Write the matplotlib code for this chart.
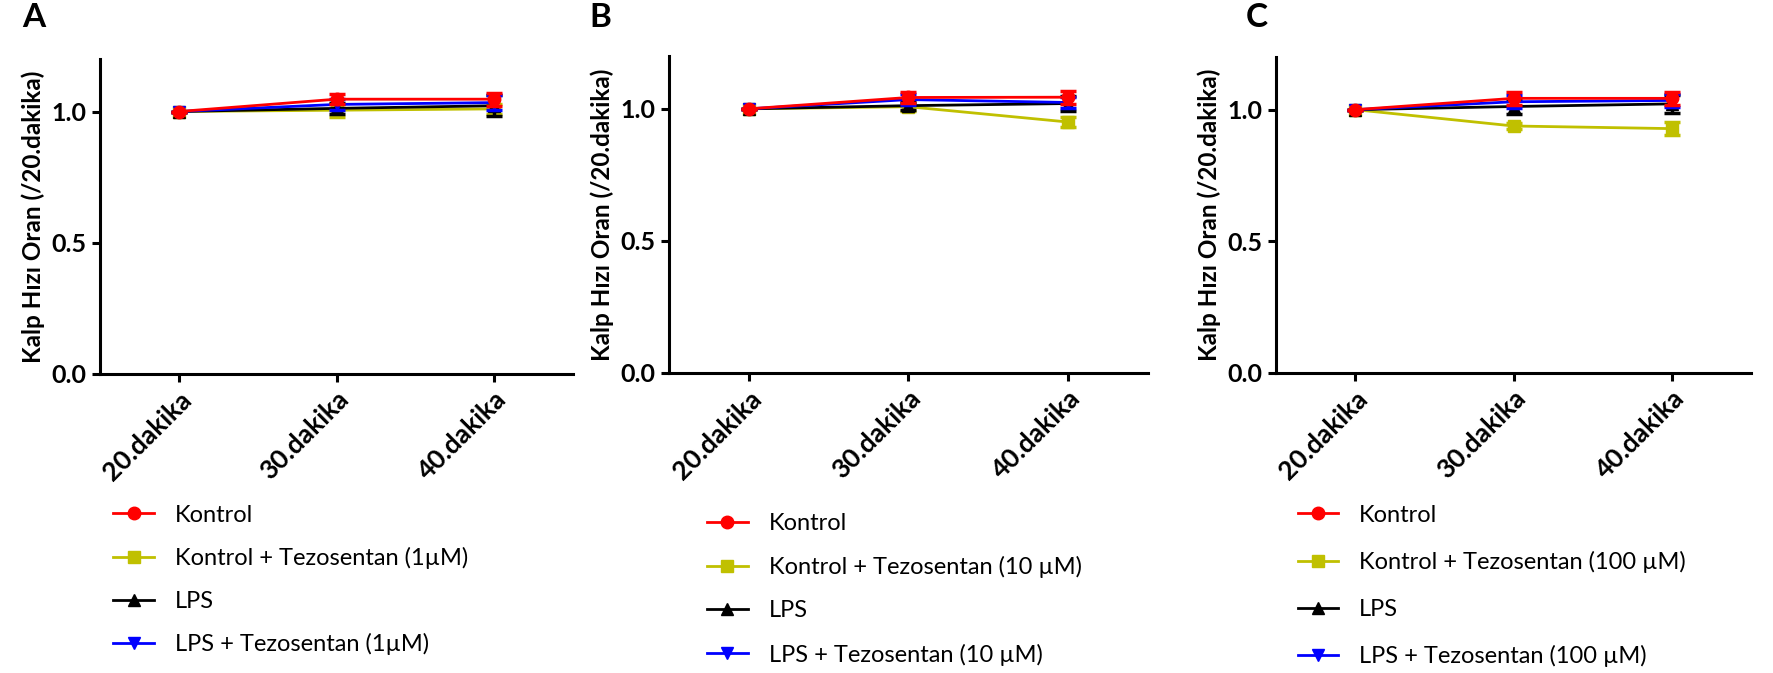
import matplotlib
matplotlib.use('Agg')
from matplotlib import pyplot as plt
from matplotlib.lines import Line2D

plt.rcParams['font.family'] = ['Lato', 'DejaVu Sans']

times = ['20.dakika', '30.dakika', '40.dakika']
x = [0, 1, 2]

# panel A (1 uM)
a_kontrol = [1.0, 1.047, 1.047]
a_kontrol_tez = [1.0, 1.005, 1.01]
a_lps = [1.0, 1.012, 1.022]
a_lps_tez = [1.0, 1.027, 1.034]
a_err = [[0.0, 0.02, 0.025], [0.0, 0.025, 0.02], [0.0, 0.02, 0.04], [0.0, 0.02, 0.03]]

# panel B (10 uM)
b_kontrol = [1.0, 1.043, 1.044]
b_kontrol_tez = [1.0, 1.008, 0.95]
b_lps = [1.0, 1.012, 1.02]
b_lps_tez = [1.0, 1.035, 1.024]
b_err = [[0.0, 0.02, 0.025], [0.0, 0.015, 0.02], [0.0, 0.015, 0.03], [0.0, 0.02, 0.02]]

# panel C (100 uM)
c_kontrol = [1.0, 1.043, 1.043]
c_kontrol_tez = [1.0, 0.938, 0.928]
c_lps = [1.0, 1.012, 1.022]
c_lps_tez = [1.0, 1.03, 1.035]
c_err = [[0.0, 0.025, 0.025], [0.0, 0.01, 0.025], [0.0, 0.03, 0.035], [0.0, 0.025, 0.025]]

labels_a = ['Kontrol', 'Kontrol + Tezosentan (1µM)', 'LPS', 'LPS + Tezosentan (1µM)']
labels_b = ['Kontrol', 'Kontrol + Tezosentan (10 µM)', 'LPS', 'LPS + Tezosentan (10 µM)']
labels_c = ['Kontrol', 'Kontrol + Tezosentan (100 µM)', 'LPS', 'LPS + Tezosentan (100 µM)']

colors = ['#ff0000', '#c0c000', '#000000', '#0000ff']
markers = ['o', 's', '^', 'v']
zorders = [6, 3, 4, 5]

fig = plt.figure(figsize=(17.73, 6.73), dpi=100)

panels = [
    ('A', [0.0564, 0.4443, 0.2668, 0.468], [a_kontrol, a_kontrol_tez, a_lps, a_lps_tez], a_err, labels_a,
     (0.0125, 0.995), (0.064, 0.250), 0.91),
    ('B', [0.3773, 0.4458, 0.2702, 0.471], [b_kontrol, b_kontrol_tez, b_lps, b_lps_tez], b_err, labels_b,
     (0.3325, 0.995), (0.399, 0.238), 0.94),
    ('C', [0.7197, 0.4458, 0.2679, 0.4695], [c_kontrol, c_kontrol_tez, c_lps, c_lps_tez], c_err, labels_c,
     (0.7025, 0.995), (0.732, 0.250), 1.08),
]

for letter, pos, series, errs, labels, letter_xy, leg_xy, spacing in panels:
    ax = fig.add_axes(pos)
    handles = []
    for vals, err, col, mk, zo, lab in zip(series, errs, colors, markers, zorders, labels):
        ax.errorbar(x, vals, yerr=err, color=col, marker=mk, markersize=9, linewidth=2,
                    elinewidth=2.5, capsize=6, capthick=2.5, zorder=zo)
        handles.append(Line2D([], [], color=col, marker=mk, markersize=9, linewidth=2, label=lab))
    ax.set_xlim(-0.5, 2.5)
    ax.set_ylim(0, 1.2)
    ax.set_yticks([0.0, 0.5, 1.0])
    ax.set_yticklabels(['0.0', '0.5', '1.0'])
    ax.set_xticks(x)
    ax.set_xticklabels(times, rotation=45, ha='right', rotation_mode='anchor')
    for s in ['top', 'right']:
        ax.spines[s].set_visible(False)
    for s in ['left', 'bottom']:
        ax.spines[s].set_linewidth(2.2)
    ax.tick_params(axis='both', width=2.2, length=6)
    ax.tick_params(axis='y', labelsize=18)
    ax.tick_params(axis='x', labelsize=19)
    for t in ax.get_xticklabels() + ax.get_yticklabels():
        t.set_fontweight('bold')
    ax.set_ylabel('Kalp Hızı Oran (/20.dakika)', fontsize=17.5, fontweight='bold', labelpad=5)
    fig.text(letter_xy[0], letter_xy[1], letter, fontsize=24, fontweight='bold', va='top', ha='left')
    ax.legend(handles=handles, loc='upper left', bbox_to_anchor=leg_xy, bbox_transform=fig.transFigure,
              frameon=False, fontsize=17, handlelength=1.7, labelspacing=spacing,
              handletextpad=0.9, borderaxespad=0, borderpad=0)

plt.savefig('out.png', dpi=100)
